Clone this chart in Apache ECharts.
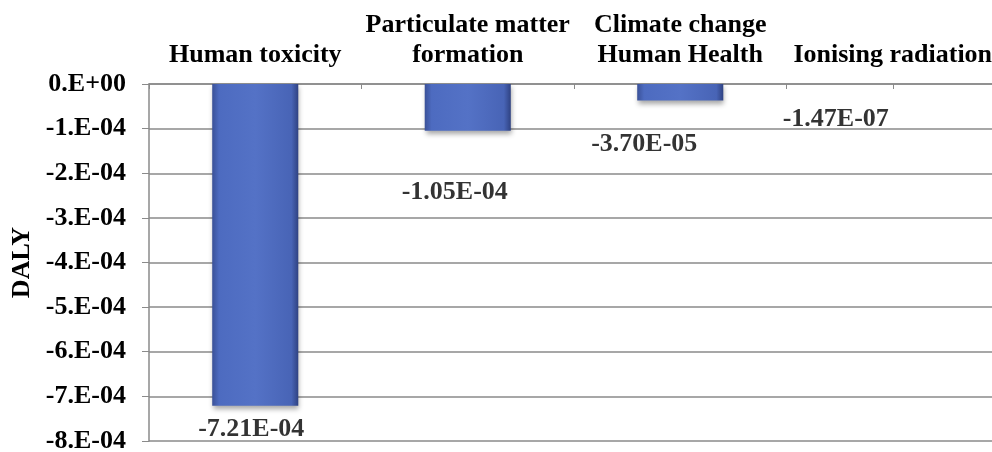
<!DOCTYPE html>
<html>
<head>
<meta charset="utf-8">
<script src="https://cdn.jsdelivr.net/npm/echarts@6/dist/echarts.min.js"></script>
<style>
  html, body { margin: 0; padding: 0; background: #ffffff; }
  #chart { width: 992px; height: 452px; }
</style>
</head>
<body>
<div id="chart"></div>
<script>
// Damage categories (human health) and their DALY results
const categories = [
  'Human toxicity',
  'Particulate matter\nformation',
  'Climate change\nHuman Health',
  'Ionising radiation'
];
const dalyValues = [-7.21e-4, -1.05e-4, -3.70e-5, -1.47e-7];
const valueLabels = ['-7.21E-04', '-1.05E-04', '-3.70E-05', '-1.47E-07'];
const yTickLabels = ['0.E+00', '-1.E-04', '-2.E-04', '-3.E-04', '-4.E-04',
                     '-5.E-04', '-6.E-04', '-7.E-04', '-8.E-04'];

// Hand-placed value label offsets (dx, dy from the bar end)
const labelOffsets = [[-4, 24], [-13, 61], [-36, 44], [-57, 35]];

const FONT = '"Liberation Serif", "Times New Roman", serif';
const FONT_SIZE = 26;
const GRID_COLOR = '#8a8a8a';

const chart = echarts.init(document.getElementById('chart'), null, { renderer: 'canvas' });

const barColor = new echarts.graphic.LinearGradient(0, 0, 1, 0, [
  { offset: 0, color: '#3a5198' },
  { offset: 0.08, color: '#4d6bc0' },
  { offset: 0.5, color: '#5472c6' },
  { offset: 0.92, color: '#4864b6' },
  { offset: 1, color: '#2f4282' }
]);

chart.setOption({
  animation: false,
  backgroundColor: '#ffffff',
  grid: { left: 149, right: -7, top: 84, bottom: 11, containLabel: false, outerBoundsMode: 'none' },
  xAxis: [
    {
      type: 'category',
      position: 'top',
      data: categories,
      axisLine: { show: true, lineStyle: { color: GRID_COLOR, width: 1.5 } },
      axisTick: { show: true, inside: true, length: 5, alignWithLabel: false,
                  lineStyle: { color: GRID_COLOR } },
      axisLabel: {
        show: true, interval: 0, margin: 14,
        fontFamily: FONT, fontSize: FONT_SIZE, fontWeight: 'bold', color: '#000',
        lineHeight: 30
      },
      splitLine: { show: false }
    },
    {
      type: 'category',
      position: 'top',
      data: categories,
      axisLine: { show: false },
      axisTick: { show: true, inside: true, length: 5, alignWithLabel: true,
                  lineStyle: { color: GRID_COLOR } },
      axisLabel: { show: false },
      splitLine: { show: false }
    }
  ],
  yAxis: {
    type: 'value',
    min: -8e-4,
    max: 0,
    interval: 1e-4,
    name: 'DALY',
    nameLocation: 'middle',
    nameGap: 113,
    nameRotate: 90,
    nameTextStyle: { fontFamily: FONT, fontSize: FONT_SIZE, fontWeight: 'bold', color: '#000' },
    axisLine: { show: true, lineStyle: { color: GRID_COLOR, width: 1.5 } },
    axisTick: { show: true, inside: false, length: 7, lineStyle: { color: GRID_COLOR } },
    axisLabel: {
      margin: 23,
      fontFamily: FONT, fontSize: FONT_SIZE, fontWeight: 'bold', color: '#000',
      formatter: function (v) {
        const i = Math.round(-v / 1e-4);
        return yTickLabels[i] !== undefined ? yTickLabels[i] : '';
      }
    },
    splitLine: { show: true, lineStyle: { color: GRID_COLOR, width: 1.5 } }
  },
  series: [
    {
      type: 'bar',
      data: dalyValues,
      barWidth: '40.5%',
      itemStyle: {
        color: barColor,
        shadowColor: 'rgba(0,0,0,0.35)',
        shadowBlur: 5,
        shadowOffsetX: 1,
        shadowOffsetY: 3
      },
      label: { show: false }
    },
    {
      // invisible anchors at each bar end, carrying the value labels
      type: 'scatter',
      data: dalyValues.map(function (v, i) { return [i, v]; }),
      symbolSize: 1,
      itemStyle: { color: 'rgba(0,0,0,0)' },
      label: {
        show: true,
        position: 'inside',
        fontFamily: FONT, fontSize: FONT_SIZE, fontWeight: 'bold', color: '#000',
        formatter: function (p) { return valueLabels[p.dataIndex]; }
      },
      labelLayout: function (params) {
        const o = labelOffsets[params.dataIndex];
        return { dx: o[0], dy: o[1] };
      },
      z: 5
    }
  ]
});
</script>
</body>
</html>
